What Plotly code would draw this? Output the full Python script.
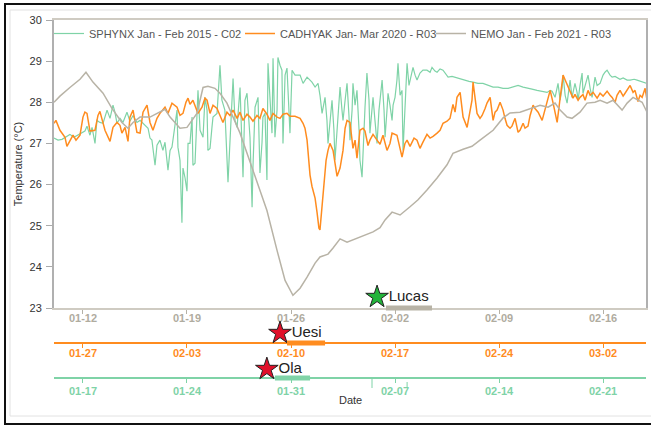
import pandas as pd
import plotly.graph_objects as go

# ---------------- data (days since each series' reference date, temperature °C) ----------------
nemo_ref = "2021-01-12"
nemo_day = [-1.95, -1.55, -0.88, -0.20, 0.20, 0.67, 1.35, 1.95, 2.62, 3.03, 3.37, 3.84, 4.51, 5.18, 5.52,
            5.86, 6.53, 7.00, 7.67, 8.08, 8.41, 8.88, 9.22, 9.69, 10.10, 10.57, 11.04, 11.58, 11.91, 12.38,
            13.06, 13.60, 14.13, 14.61, 15.08, 15.62, 15.95, 16.49, 16.83, 17.30, 17.77, 18.64, 19.52, 19.99,
            20.33, 20.80, 21.34, 22.01, 22.55, 23.15, 23.83, 24.50, 24.90, 25.58, 26.18, 26.72, 27.60, 28.27,
            28.74, 29.41, 30.09, 30.76, 31.30, 31.77, 32.11, 32.58, 32.91, 33.45, 33.92, 34.46, 34.80, 35.27,
            35.67, 36.28, 36.62, 37.02, 37.63, 37.96]
nemo_temp = [28.00, 28.15, 28.36, 28.56, 28.73, 28.49, 28.22, 27.85, 27.51, 27.37, 27.51, 27.64, 27.64, 27.76, 27.83,
             27.64, 27.37, 27.39, 27.73, 28.36, 28.39, 28.34, 28.22, 27.98, 27.64, 27.25, 26.76, 26.18, 25.86, 25.37,
             24.40, 23.67, 23.31, 23.48, 23.75, 24.09, 24.24, 24.31, 24.46, 24.68, 24.60, 24.73, 24.85, 24.95,
             25.14, 25.33, 25.26, 25.46, 25.63, 25.87, 26.16, 26.48, 26.76, 26.86, 26.93, 27.08, 27.32, 27.62,
             27.74, 27.76, 27.85, 27.93, 27.88, 27.98, 27.81, 27.64, 27.61, 27.76, 27.98, 28.00, 28.05, 27.98,
             28.05, 27.81, 27.98, 28.12, 28.00, 27.76]

cad_ref = "2020-01-27"
cad_day = [-1.95, -1.82, -1.55, -1.21, -1.08, -0.88, -0.67, -0.47, -0.20, 0.00, 0.13, 0.27, 0.47, 0.81, 1.01,
           1.14, 1.35, 1.48, 1.82, 2.02, 2.29, 2.49, 2.62, 2.83, 3.03, 3.16, 3.37, 3.63, 3.84, 4.04, 4.31,
           4.51, 4.71, 4.98, 5.18, 5.52, 5.72, 5.99, 6.33, 6.53, 6.73, 6.93, 7.07, 7.20, 7.40, 7.74, 8.01,
           8.21, 8.35, 8.55, 8.75, 9.02, 9.22, 9.42, 9.69, 9.89, 10.10, 10.37, 10.57, 10.77, 11.04, 11.24,
           11.44, 11.71, 11.91, 12.11, 12.38, 12.58, 12.79, 13.06, 13.26, 13.46, 13.73, 13.93, 14.27, 14.61,
           14.81, 14.94, 15.08, 15.21, 15.28, 15.41, 15.62, 15.75, 15.88, 15.95, 16.09, 16.22, 16.36, 16.49,
           16.62, 16.83, 16.96, 17.10, 17.30, 17.50, 17.64, 17.77, 17.97, 18.17, 18.31, 18.44, 18.64, 18.85,
           18.98, 19.18, 19.31, 19.52, 19.79, 19.99, 20.19, 20.46, 20.66, 20.80, 21.13, 21.34, 21.47, 21.67,
           21.81, 22.01, 22.28, 22.48, 22.68, 22.88, 23.15, 23.36, 23.56, 23.83, 24.03, 24.23, 24.50, 24.70,
           24.90, 25.04, 25.17, 25.38, 25.58, 25.85, 26.05, 26.18, 26.25, 26.38, 26.52, 26.72, 26.86, 27.06,
           27.19, 27.40, 27.60, 27.73, 27.87, 28.07, 28.27, 28.40, 28.54, 28.74, 28.87, 29.08, 29.28, 29.41,
           29.62, 29.75, 29.95, 30.09, 30.29, 30.42, 30.63, 30.90, 31.10, 31.23, 31.44, 31.64, 31.77, 31.91,
           32.11, 32.24, 32.31, 32.45, 32.58, 32.78, 32.98, 33.11, 33.32, 33.45, 33.65, 33.79, 33.99, 34.13,
           34.33, 34.60, 34.80, 35.00, 35.27, 35.47, 35.61, 35.81, 35.94, 36.14, 36.35, 36.48, 36.68, 36.82,
           37.02, 37.15, 37.35, 37.49, 37.63, 37.83, 37.96]
cad_temp = [27.49, 27.56, 27.32, 27.15, 26.93, 27.08, 27.20, 27.08, 27.20, 27.64, 27.76, 27.73, 27.30, 27.32, 27.68,
            27.78, 27.49, 27.32, 27.05, 27.39, 27.51, 27.44, 27.25, 27.39, 27.05, 27.64, 27.81, 27.27, 27.25, 27.76, 27.93,
            27.51, 27.32, 27.61, 27.73, 27.88, 27.73, 27.98, 27.88, 27.68, 27.73, 28.00, 28.10, 27.95, 28.05, 27.73, 27.88,
            28.10, 28.05, 27.73, 27.93, 27.85, 27.68, 27.51, 27.76, 27.68, 27.81, 27.61, 27.76, 27.56, 27.71, 27.64,
            27.54, 27.68, 27.61, 27.85, 27.71, 27.56, 27.73, 27.64, 27.61, 27.71, 27.73, 27.66, 27.66, 27.61,
            27.49, 27.37, 27.08, 26.59, 26.23, 25.96, 25.67, 25.33, 24.94, 24.90, 25.43, 26.11, 26.59, 26.83,
            27.00, 26.83, 26.47, 26.20, 26.40, 26.83, 27.37, 27.56, 27.51, 26.88, 27.08, 26.64, 27.32, 27.37,
            27.30, 26.95, 27.08, 27.22, 27.08, 26.98, 27.20, 26.83, 27.00, 27.25, 27.20, 26.88, 26.67, 27.00,
            27.08, 26.93, 27.13, 27.08, 26.88, 27.03, 27.22, 27.13, 27.17, 27.25, 27.32, 27.49, 27.54, 27.61,
            27.95, 27.76, 28.12, 28.24, 27.64, 27.39, 27.76, 28.05, 28.49, 28.05, 27.73, 27.61, 27.68, 27.85,
            27.98, 28.12, 27.56, 27.76, 27.81, 28.00, 27.81, 27.61, 27.44, 27.37, 27.42, 27.61, 27.27, 27.32,
            27.49, 27.37, 27.42, 27.68, 27.93, 27.85, 27.76, 27.56, 27.81, 28.00, 28.29, 27.98, 27.76, 27.51,
            28.10, 28.41, 28.66, 28.54, 28.44, 28.29, 28.10, 28.19, 28.05, 28.12, 28.19, 28.05, 28.29, 28.17,
            28.24, 28.10, 28.22, 28.15, 28.27, 28.17, 28.12, 28.00, 28.17, 28.29, 28.15, 28.22, 28.34, 28.41,
            28.24, 28.29, 28.02, 28.17, 28.12, 28.34, 28.05]

sph_ref = "2015-01-17"
sph_day = [-1.95, -1.68, -1.41, -1.14, -0.88, -0.61, -0.34, -0.07, 0.13, 0.27, 0.47, 0.61, 0.81, 0.94, 1.14,
           1.35, 1.48, 1.62, 1.82, 2.02, 2.15, 2.29, 2.49, 2.69, 2.96, 3.16, 3.37, 3.63, 3.84, 4.11, 4.38,
           4.51, 4.64, 4.85, 4.98, 5.18, 5.38, 5.52, 5.72, 5.86, 5.99, 6.19, 6.33, 6.39, 6.53, 6.66, 6.73,
           6.87, 7.00, 7.07, 7.20, 7.34, 7.40, 7.54, 7.74, 7.88, 8.08, 8.21, 8.35, 8.41, 8.55, 8.68, 8.75,
           9.02, 9.22, 9.35, 9.55, 9.76, 9.89, 10.03, 10.10, 10.23, 10.37, 10.57, 10.77, 10.90, 11.04, 11.24,
           11.38, 11.44, 11.58, 11.78, 11.91, 12.05, 12.11, 12.25, 12.32, 12.38, 12.45, 12.58, 12.72, 12.79,
           12.92, 13.06, 13.12, 13.26, 13.39, 13.46, 13.60, 13.73, 13.86, 13.93, 14.07, 14.27, 14.61, 14.81,
           15.08, 15.41, 15.62, 15.82, 15.95, 16.09, 16.29, 16.42, 16.49, 16.62, 16.76, 16.89, 16.96, 17.10,
           17.30, 17.43, 17.50, 17.64, 17.77, 17.90, 17.97, 18.11, 18.17, 18.31, 18.44, 18.58, 18.64, 18.78,
           18.91, 18.98, 19.11, 19.25, 19.31, 19.45, 19.52, 19.65, 19.79, 19.92, 20.13, 20.26, 20.33, 20.46,
           20.53, 20.66, 20.80, 20.87, 21.00, 21.13, 21.20, 21.34, 21.47, 21.54, 21.67, 21.81, 21.94, 22.01,
           22.14, 22.21, 22.35, 22.48, 22.68, 22.88, 23.15, 23.36, 23.49, 23.69, 23.83, 24.03, 24.23, 24.43,
           24.57, 24.84, 25.17, 25.44, 25.71, 25.98, 26.25, 26.58, 26.92, 27.26, 27.60, 27.93, 28.27, 28.61,
           28.94, 29.28, 29.62, 29.89, 30.22, 30.56, 30.90, 31.23, 31.44, 31.57, 31.77, 31.91, 31.97, 32.11,
           32.24, 32.31, 32.45, 32.58, 32.71, 32.78, 32.91, 33.11, 33.25, 33.32, 33.45, 33.59, 33.65, 33.85,
           33.99, 34.13, 34.26, 34.46, 34.60, 34.80, 35.00, 35.13, 35.27, 35.47, 35.61, 35.81, 35.94, 36.14,
           36.35, 36.62, 36.82, 37.09, 37.29, 37.49, 37.69, 37.96]
sph_temp = [27.13, 27.08, 27.10, 27.17, 27.22, 27.15, 27.20, 27.25, 27.30, 27.42, 27.20, 27.39, 27.00, 27.56, 27.51,
            27.49, 27.68, 27.81, 27.61, 27.93, 27.76, 27.49, 27.61, 27.51, 27.76, 27.54, 27.68, 27.51, 27.56, 27.47, 27.37,
            27.13, 27.08, 26.47, 26.96, 27.08, 26.83, 27.03, 26.35, 26.83, 26.91, 27.44, 27.81, 26.91, 26.59, 25.07, 26.40,
            26.16, 25.84, 27.00, 27.00, 27.64, 26.47, 26.52, 28.29, 27.32, 27.15, 28.12, 27.81, 26.83, 26.88, 27.39, 27.64,
            27.73, 28.90, 28.05, 27.81, 26.06, 27.13, 27.98, 28.58, 27.56, 27.39, 28.36, 26.18, 28.05, 28.22, 27.15,
            25.45, 26.42, 27.88, 28.12, 26.28, 27.03, 27.64, 27.73, 26.35, 26.11, 28.95, 28.05, 27.25, 29.07,
            27.15, 27.81, 29.09, 28.90, 28.78, 27.00, 28.66, 28.83, 27.81, 27.25, 28.78, 28.66, 28.66, 28.46,
            28.61, 28.49, 28.37, 28.46, 28.17, 27.73, 28.12, 27.56, 27.00, 27.56, 28.05, 27.32, 26.59, 27.32,
            28.37, 27.81, 27.56, 28.05, 28.46, 27.68, 27.08, 27.81, 28.46, 27.93, 28.29, 27.32, 26.59, 26.18,
            27.56, 27.88, 28.71, 28.05, 27.25, 27.81, 28.12, 27.56, 27.00, 27.81, 28.54, 27.81, 27.15, 27.81,
            28.22, 27.93, 27.56, 27.93, 28.12, 28.54, 28.95, 28.17, 28.29, 26.83, 28.05, 28.95, 28.41, 28.54,
            28.78, 28.85, 28.66, 28.54, 28.71, 28.78, 28.78, 28.73, 28.85, 28.76, 28.73, 28.81, 28.78, 28.66,
            28.61, 28.63, 28.59, 28.56, 28.54, 28.51, 28.49, 28.46, 28.46, 28.41, 28.37, 28.37, 28.34, 28.34,
            28.37, 28.41, 28.37, 28.34, 28.32, 28.29, 28.27, 28.24, 28.29, 28.27, 28.12, 28.34, 28.46, 28.05,
            28.34, 28.66, 28.17, 27.98, 28.29, 28.54, 28.12, 28.46, 28.24, 28.05, 28.41, 28.71, 28.22, 28.49,
            28.66, 28.34, 28.12, 28.61, 28.41, 28.46, 28.66, 28.73, 28.78, 28.66, 28.61, 28.63, 28.61, 28.56,
            28.59, 28.54, 28.54, 28.56, 28.54, 28.51, 28.49, 28.46]

# events: name, star time, period start/end (each on its own series' time axis)
event_names = ["Lucas", "Uesi", "Ola"]
event_star = ["2021-01-31 19:00", "2020-02-09 06:15", "2015-01-29 09:00"]
event_start = ["2021-02-01 09:20", "2020-02-09 17:30", "2015-01-29 22:00"]
event_end = ["2021-02-04 11:45", "2020-02-12 07:00", "2015-02-01 06:45"]

legend_names = ["SPHYNX Jan - Feb 2015 - C02", "CADHYAK Jan- Mar 2020 - R03", "NEMO Jan - Feb 2021 - R03"]

GREEN = "#7fd3a7"
ORANGE = "#ff8c1f"
GRAY = "#b8b3a6"
FONT = "Liberation Sans, Arial, sans-serif"

# paper layout helpers
W, H = 651, 428
ML, MR, MT, MB = 54, 5, 20, 8
PW, PH = W - ML - MR, H - MT - MB


def py(pix):
    return (H - MB - pix) / PH


def px(pix):
    return (pix - ML) / PW


def to_dates(ref, days):
    return pd.Timestamp(ref) + pd.to_timedelta(days, unit="D")


fig = go.Figure()
fig.add_trace(go.Scatter(x=to_dates(sph_ref, sph_day), y=sph_temp, mode="lines", name=legend_names[0],
                         line=dict(color=GREEN, width=1.2), xaxis="x", yaxis="y"))
fig.add_trace(go.Scatter(x=to_dates(cad_ref, cad_day), y=cad_temp, mode="lines", name=legend_names[1],
                         line=dict(color=ORANGE, width=1.5), xaxis="x2", yaxis="y"))
fig.add_trace(go.Scatter(x=to_dates(nemo_ref, nemo_day), y=nemo_temp, mode="lines", name=legend_names[2],
                         line=dict(color=GRAY, width=1.5), xaxis="x3", yaxis="y"))

# star markers with labels, on a hidden full-height axis (y2) so they can sit below the plot
star_axes = ["x3", "x2", "x"]
star_pix_y = [297, 333, 369]
star_col = ["#22b33a", "#e0102a", "#e0102a"]
for nm, ax, t, yp, c in zip(event_names, star_axes, event_star, star_pix_y, star_col):
    fig.add_trace(go.Scatter(x=[pd.Timestamp(t)], y=[py(yp)], mode="markers+text", text=[nm],
                             textposition="middle right", textfont=dict(family=FONT, size=15, color="#222"),
                             marker=dict(symbol="star", size=17, color=c, line=dict(color="#222", width=1)),
                             cliponaxis=False, showlegend=False, hoverinfo="skip", xaxis=ax, yaxis="y2"))

shapes = []
bar_cols = [GRAY, ORANGE, GREEN]
bar_y = [py(308), py(343), py(378)]
for ax, s, e, c, yy in zip(star_axes, event_start, event_end, bar_cols, bar_y):
    shapes.append(dict(type="line", xref=ax, yref="paper", x0=s, x1=e, y0=yy, y1=yy,
                       line=dict(color=c, width=5)))
# small extra ticks on the 2015 axis
for t, y0 in [("2015-02-05 10:50", py(379)), ("2015-02-07 19:30", py(382))]:
    shapes.append(dict(type="line", xref="x", yref="paper", x0=t, x1=t, y0=y0, y1=py(388),
                       line=dict(color=GREEN, width=1)))
# outer frames
shapes.append(dict(type="rect", xref="paper", yref="paper", x0=px(10), x1=px(660), y0=py(416), y1=py(10),
                   line=dict(color="#e2e2e2", width=1)))
shapes.append(dict(type="rect", xref="paper", yref="paper", x0=px(5), x1=px(662), y0=py(424), y1=py(4),
                   line=dict(color="#111", width=2)))

base_x = dict(type="date", tickformat="%m-%d", dtick=7 * 86400000, ticks="outside", ticklen=4,
              showgrid=False, zeroline=False, showline=True, linewidth=2, fixedrange=True, automargin=False)

fig.update_layout(
    width=W, height=H,
    margin=dict(l=ML, r=MR, t=MT, b=MB, autoexpand=False),
    paper_bgcolor="white", plot_bgcolor="rgba(0,0,0,0)",
    font=dict(family=FONT, size=11, color="#333"),
    showlegend=True,
    legend=dict(orientation="h", x=px(49), y=py(19), xanchor="left", yanchor="top",
                font=dict(family=FONT, size=11, color="#555"), bgcolor="rgba(0,0,0,0)",
                entrywidth=146, entrywidthmode="pixels", itemwidth=30),
    xaxis=dict(base_x, anchor="free", position=py(378),
               range=[to_dates(sph_ref, -1.95), to_dates(sph_ref, 37.89)], tick0="2015-01-17",
               linecolor=GREEN, tickcolor=GREEN, ticklabelstandoff=-1,
               tickfont=dict(family=FONT, size=11, color=GREEN, weight="bold")),
    xaxis2=dict(base_x, anchor="free", position=py(343), overlaying="x",
                range=[to_dates(cad_ref, -1.95), to_dates(cad_ref, 37.89)], tick0="2020-01-27",
                linecolor=ORANGE, tickcolor=ORANGE, ticklabelstandoff=-4,
                tickfont=dict(family=FONT, size=11, color=ORANGE, weight="bold")),
    xaxis3=dict(base_x, anchor="y", overlaying="x", mirror=True,
                range=[to_dates(nemo_ref, -1.95), to_dates(nemo_ref, 37.89)], tick0="2021-01-12",
                linecolor="#cfcbc2", tickcolor="#b5b1a6", ticklabelstandoff=-5,
                tickfont=dict(family=FONT, size=11, color="#b0ac9f", weight="bold")),
    yaxis=dict(domain=[py(308), 1], range=[23, 30], dtick=1, ticks="outside", ticklen=6,
               tickcolor="#aaa", showline=True, linecolor="#b0b0b0", linewidth=2, mirror=True,
               showgrid=False, zeroline=False, fixedrange=True, anchor="x3", automargin=False,
               ticklabelstandoff=2,
               tickfont=dict(family=FONT, size=11, color="#333"),
               title=dict(text="Temperature (°C)", font=dict(family=FONT, size=11, color="#333"), standoff=5)),
    yaxis2=dict(domain=[0, 1], range=[0, 1], visible=False, fixedrange=True, anchor="free", position=0),
    shapes=shapes,
    annotations=[dict(text="Date", xref="paper", yref="paper", x=px(350), y=py(408), showarrow=False,
                      font=dict(family=FONT, size=11, color="#333"))],
)

fig.write_html("out.html", config={"displayModeBar": False},
               post_script="document.body.style.margin='0px';")
